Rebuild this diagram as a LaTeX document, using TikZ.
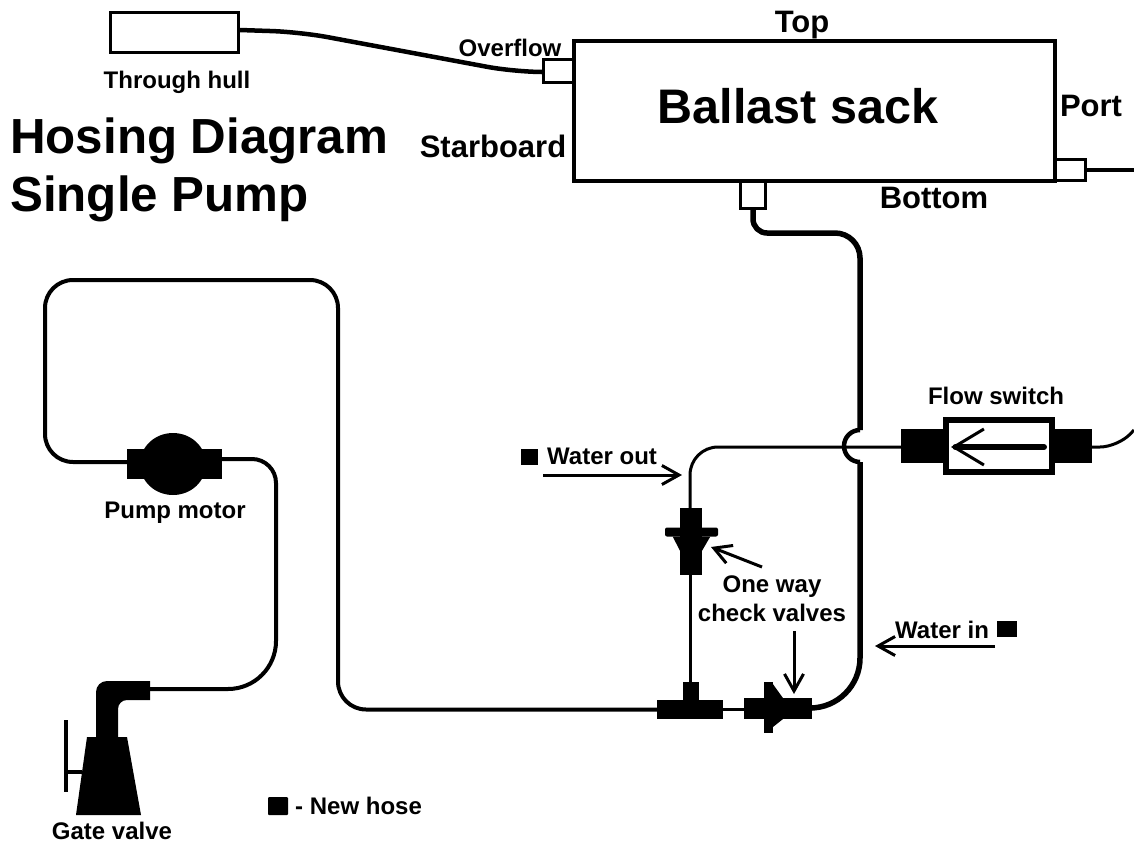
\documentclass[tikz,border=0pt]{standalone}
\usepackage{fontspec}
\setmainfont{Liberation Sans}
\usepackage{tikz}
\usetikzlibrary{positioning,arrows.meta,shapes.geometric,calc}

\begin{document}
\begin{tikzpicture}[
  x=1pt, y=-1pt, >={Straight Barb[length=17pt,width=19pt]},
  lbl/.style={font=\fontsize{24}{26}\selectfont\bfseries, inner sep=0pt, align=center},
  lbig/.style={font=\fontsize{31}{33}\selectfont\bfseries, inner sep=0pt, align=center},
  title/.style={font=\fontsize{49.3}{52}\selectfont\bfseries, inner sep=0pt, anchor=base west},
  tank/.style={draw, line width=3.5pt, fill=white, inner sep=0pt, minimum width=481pt, minimum height=140pt},
  fitting/.style={draw, line width=3pt, fill=white, inner sep=0pt},
  blk/.style={draw=none, fill=black, inner sep=0pt},
  hose/.style={line width=4.5pt, rounded corners=28pt},
  thin hose/.style={line width=3pt, rounded corners=28pt},
  arr/.style={->, line width=3pt},
]
\useasboundingbox (0,0) rectangle (1134,843);

% ballast sack and its fittings
\node[tank] (sack) at (814.5,111) {};
\node[font=\fontsize{48.5}{50}\selectfont\bfseries, inner sep=0pt, anchor=base] (sackname) at (798,123) {Ballast sack};
\node[fitting, minimum width=30pt, minimum height=22pt] (over) at (558,71) {};
\node[fitting, minimum width=25pt, minimum height=27pt] (bot)  at (753,195) {};
\node[fitting, minimum width=30pt, minimum height=21pt] (port) at (1070,170) {};
\node[fitting, minimum width=128pt, minimum height=40pt] (hull) at (174,33) {};

\node[lbl] (lhull)  at (177,82)  {Through hull};
\node[lbl] (lover)  at (510,48)  {Overflow};
\node[lbig] (lstar)  at (493,146) {Starboard};
\node[lbig] (ltop)   at (802,25)  {Top};
\node[lbig] (lport)  at (1091,106) {Port};
\node[lbig] (lbot)   at (934,198) {Bottom};
\node[title] (t1) at (10,153) {Hosing Diagram};
\node[title] (t2) at (10,211) {Single Pump};

% pump and gate valve
\node[draw=none, fill=black, ellipse, inner sep=0pt, minimum width=66pt, minimum height=62pt] (pump) at (173,464) {};
\node[blk, minimum width=95pt, minimum height=30pt] (pumpfit) at (174.5,464) {};
\node[lbl] (lpump) at (175,513) {Pump motor};
\coordinate (gatefit) at (150,689);
\coordinate (gatew) at (82,772);
\fill (87,737) -- (127,737) -- (141,815) -- (76,815) -- cycle;
\fill (96,737) [rounded corners=11pt] -- (96,681) [sharp corners] -- (150,681) -- (150,700) [rounded corners=9pt] -- (118,700) [sharp corners] -- (118,737) -- cycle;
\node[lbl] (lgate) at (112,830.5) {Gate valve};
\coordinate (hndl1) at (66,720);
\coordinate (hndl2) at (66,792);
\coordinate (hndl3) at (66,772);

% flow switch
\node[draw, line width=6pt, fill=white, inner sep=0pt, minimum width=106pt, minimum height=52pt] (flow) at (999,446) {};
\node[blk, minimum width=42pt, minimum height=34pt] (flowL) at (922,446) {};
\node[blk, minimum width=37pt, minimum height=34pt] (flowR) at (1073.5,446) {};
\node[lbl] (lflow) at (996,396) {Flow switch};
\coordinate (fa) at (1044,447);
\coordinate (fb) at (951,447);

% check valves and tee
\node[blk, minimum width=22pt, minimum height=67pt] (cv1) at (691,541.5) {};
\node[blk, minimum width=53pt, minimum height=9pt, rounded corners=2pt] (cv1f) at (691.5,532) {};
\node[blk, minimum width=68pt, minimum height=21pt] (cv2) at (778,708.5) {};
\node[blk, minimum width=9pt, minimum height=51pt] (cv2f) at (768,707.5) {};
\node[blk, minimum width=66pt, minimum height=19pt] (tee) at (690,709.5) {};
\node[blk, minimum width=16pt, minimum height=20pt] (teestem) at (691,692) {};
\fill (cv1f.south west) ++(8,0) -- ($(cv1.west)+(0,9)$) -- ($(cv1.east)+(0,9)$) -- ($(cv1f.south east)+(-8,0)$) -- cycle;
\fill ($(cv2f.north east)+(0,2)$) -- ($(cv2.north west)+(39,0)$) -- ($(cv2.south west)+(39,0)$) -- ($(cv2f.south east)+(0,-6)$) -- cycle;

\node[lbl] (lcv) at (772,598.5) {One way\\[3pt]check valves};
\node[lbl, anchor=west] (lout) at (547,456) {Water out};
\node[lbl, anchor=west] (lin)  at (895,630) {Water in};
\node[blk, minimum width=17pt, minimum height=16pt] (sqout) at (529.5,457) {};
\node[blk, minimum width=20pt, minimum height=16pt] (sqin)  at (1007,629) {};
\node[blk, minimum width=20pt, minimum height=18pt, rounded corners=1pt] (sqnew) at (278,806) {};
\node[lbl, anchor=west] (lnew) at (295,806) {- New hose};

\coordinate (aout1) at (543,475);
\coordinate (aout2) at (682,475);
\coordinate (ain1)  at (995,646);
\coordinate (ain2)  at (875,646);
\coordinate (acv1)  at (762,567);
\coordinate (acv2)  at (711,547);
\coordinate (acv3)  at (794,631);
\coordinate (acv4)  at (794,694);
\coordinate (edgeP) at (1134,170);
\coordinate (edgeF) at (1134,430);
\coordinate (jumpA) at (860,430);
\coordinate (jumpB) at (860,462);

% hoses
\draw[hose] (hull.east |- 0,30) -- (300,32) -- (515,72) -- (over.west |- 0,72);
\draw[line width=4pt] (port.east) -- (edgeP);
\draw[line width=5.5pt, rounded corners=14pt] (bot.south) -- (753,233) [rounded corners=25pt] -- (860,233) -- (jumpA);
\draw[line width=4.5pt] (jumpA) arc[start angle=-90, end angle=-270, radius=16];
\draw[line width=5.5pt, rounded corners=50pt] (jumpB) -- (860,708) -- (cv2.east |- 0,708);
\draw[thin hose] (flowL.west |- 0,447) -- (690,447) -- (cv1.north -| 690,0);
\draw[thin hose] (cv1.south -| 690,0) -- (teestem.north -| 690,0);
\draw[line width=3pt] (tee.east) -- (cv2.west |- tee.east);
\draw[line width=3pt, rounded corners=18pt] (flowR.east |- 0,447) -- (1118,447) -- (edgeF);
\draw[hose, line width=4pt] (tee.west) -- (338,709.5) -- (338,280) -- (45,280) -- (45,462) -- (pumpfit.west |- 0,462);
\draw[line width=4pt, rounded corners=24pt] (pumpfit.east |- 0,459) -- (276,459) [rounded corners=48pt] -- (276,689) -- (gatefit);
\draw[line width=3.5pt] (hndl1) -- (hndl2);
\draw[line width=3.5pt] (hndl3) -- (gatew);

% arrows
\draw[->, line width=6pt, line cap=round, >={Straight Barb[length=30pt,width=36pt,line width=3pt]}] (fa) -- (fb);
\draw[arr] (aout1) -- (aout2);
\draw[arr] (ain1) -- (ain2);
\draw[arr] (acv1) -- (acv2);
\draw[arr] (acv3) -- (acv4);
\end{tikzpicture}
\end{document}
